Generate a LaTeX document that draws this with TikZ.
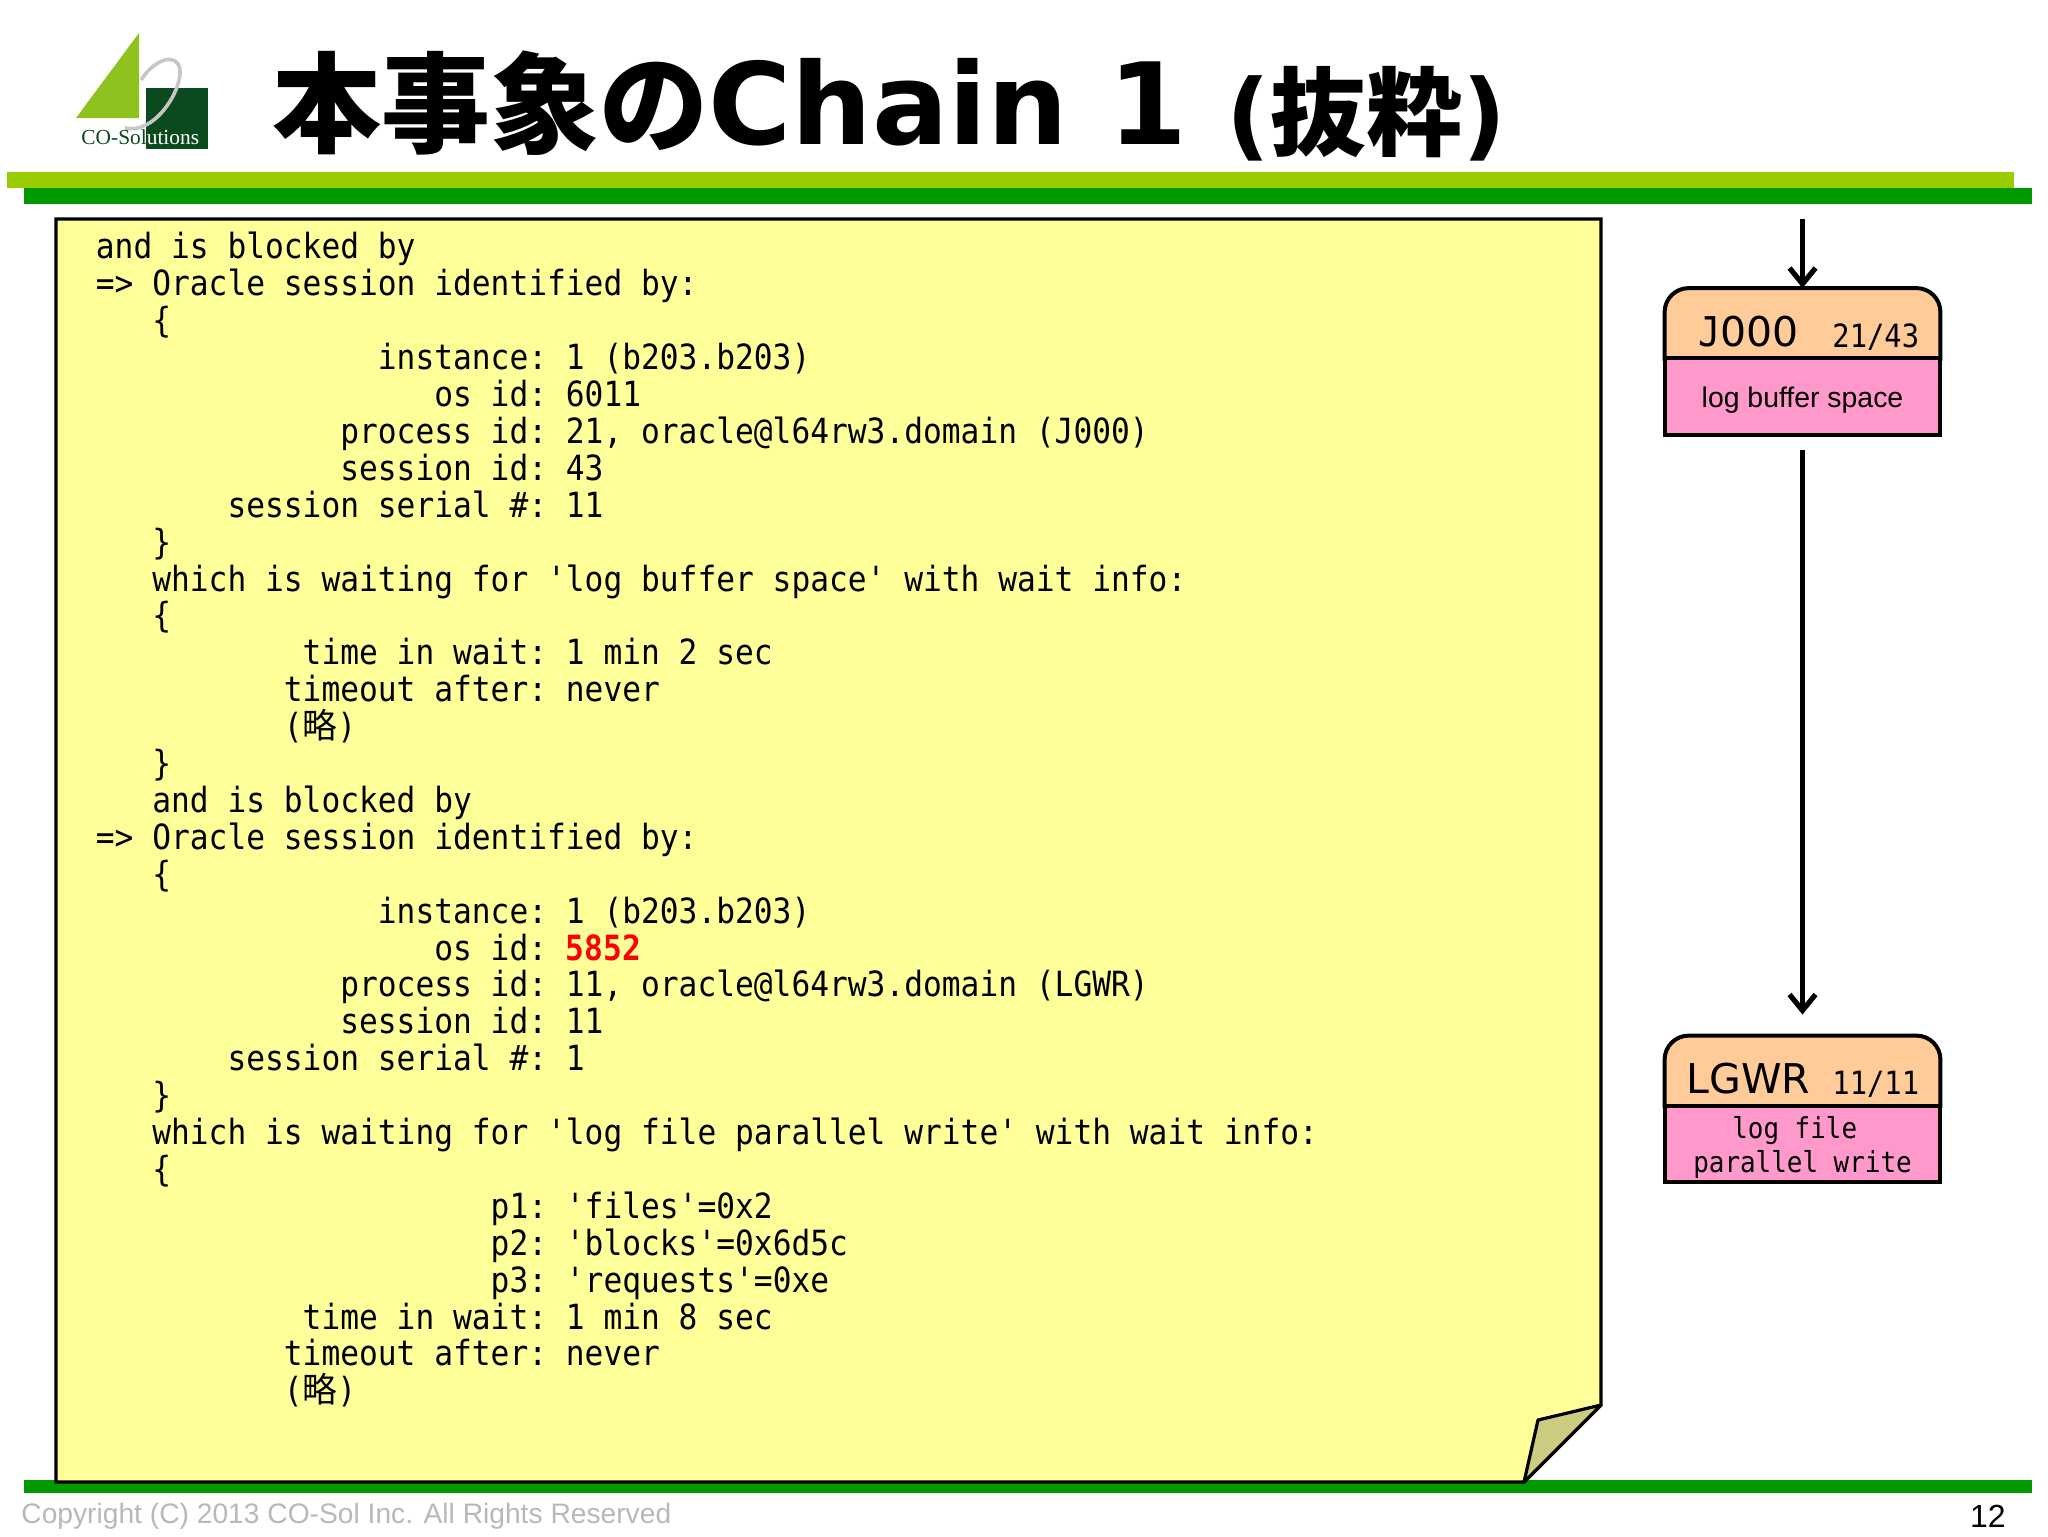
\documentclass[tikz,border=0pt]{standalone}
\usepackage{fontspec}
\usepackage{xcolor}
\usepackage{tikz}
\usetikzlibrary{arrows.meta, positioning, backgrounds}
\setmainfont{Liberation Sans}
\setmonofont[FakeStretch=0.9]{DejaVu Sans Mono}
\newfontfamily\cjkfont{Noto Sans CJK JP}
\newfontfamily\titlefont{DejaVu Sans}
\newfontfamily\logofont{Liberation Serif}
\definecolor{barlight}{HTML}{99CC00}
\definecolor{bardark}{HTML}{009900}
\definecolor{noteyellow}{HTML}{FFFF99}
\definecolor{noteflap}{HTML}{CCCC80}
\definecolor{headpeach}{HTML}{FFCC99}
\definecolor{bodypink}{HTML}{FF99CC}
\definecolor{logodark}{HTML}{0B4A1E}
\definecolor{logolight}{HTML}{8DC21F}
\definecolor{footgray}{HTML}{B8B8B8}
\tikzset{
	headbox/.style={minimum width=137.5pt, minimum height=35pt, inner sep=0pt},
	bodybox/.style={draw, line width=2pt, fill=bodypink, minimum width=137.5pt, inner sep=0pt, align=center},
	outline/.style={draw, line width=2pt, fill=headpeach},
	flow/.style={line width=2.6pt, -{Straight Barb[width=13pt,length=8pt]}},
	procname/.style={anchor=base west, inner sep=0pt, font=\titlefont\fontsize{20.5}{24}\selectfont},
	procids/.style={anchor=base west, inner sep=0pt, font=\ttfamily\fontsize{16}{18}\selectfont},
}
\begin{document}
\begin{tikzpicture}[x=0.5pt, y=-0.5pt]
	\useasboundingbox (0,0) rectangle (2048,1536);
	% Bars
	\fill[barlight] (7,172) rectangle (2014,188);
	\fill[bardark] (24,188) rectangle (2032,204);
	\fill[bardark] (24,1480) rectangle (2032,1493);
	% Logo
	\fill[logolight] (139,33) -- (76,118) -- (139,118) -- cycle;
	\fill[logodark] (146,88) rectangle (208,149);
	\draw[gray!45, line width=1.8pt] (141,80) .. controls (155,58) and (178,52) .. (180,70) .. controls (182,90) and (155,135) .. (125,128);
	\node[anchor=base west, inner sep=0pt, text=logodark, font=\logofont\fontsize{10.7}{12}\selectfont] (logotext) at (81,144) {CO-Sol\textcolor{white}{utions}};
	% Title
	\node[anchor=base west, inner sep=0pt] (title) at (272,144) {\cjkfont\bfseries\fontsize{54.5}{60}\selectfont 本事象の\titlefont\bfseries\fontsize{56.7}{60}\selectfont Chain 1\hspace{20pt}\fontsize{48}{50}\selectfont\raisebox{-2pt}{(\cjkfont 抜粋\titlefont)}};
	% Note
	\draw[line width=1.6pt, fill=noteyellow] (56,219) -- (1601,219) -- (1601,1405) -- (1524,1482) -- (56,1482) -- cycle;
	\draw[line width=1.6pt, fill=noteflap, line join=round] (1601,1405) -- (1538,1420) -- (1524,1482) -- cycle;
	\node[anchor=north west, inner sep=0pt, align=left, font=\ttfamily\fontsize{17.35}{18.45}\selectfont] (dump) at (95.5,232) {
		and is blocked by\\
		=> Oracle session identified by:\\
		~~~\{\\
		~~~~~~~~~~~~~~~instance: 1 (b203.b203)\\
		~~~~~~~~~~~~~~~~~~os id: 6011\\
		~~~~~~~~~~~~~process id: 21, oracle@l64rw3.domain (J000)\\
		~~~~~~~~~~~~~session id: 43\\
		~~~~~~~session serial \#: 11\\
		~~~\}\\
		~~~which is waiting for 'log buffer space' with wait info:\\
		~~~\{\\
		~~~~~~~~~~~time in wait: 1 min 2 sec\\
		~~~~~~~~~~timeout after: never\\
		~~~~~~~~~~({\cjkfont 略})\\
		~~~\}\\
		~~~and is blocked by\\
		=> Oracle session identified by:\\
		~~~\{\\
		~~~~~~~~~~~~~~~instance: 1 (b203.b203)\\
		~~~~~~~~~~~~~~~~~~os id: {\color{red}\bfseries 5852}\\
		~~~~~~~~~~~~~process id: 11, oracle@l64rw3.domain (LGWR)\\
		~~~~~~~~~~~~~session id: 11\\
		~~~~~~~session serial \#: 1\\
		~~~\}\\
		~~~which is waiting for 'log file parallel write' with wait info:\\
		~~~\{\\
		~~~~~~~~~~~~~~~~~~~~~p1: 'files'=0x2\\
		~~~~~~~~~~~~~~~~~~~~~p2: 'blocks'=0x6d5c\\
		~~~~~~~~~~~~~~~~~~~~~p3: 'requests'=0xe\\
		~~~~~~~~~~~time in wait: 1 min 8 sec\\
		~~~~~~~~~~timeout after: never\\
		~~~~~~~~~~({\cjkfont 略})
	};
	% J000
	\node[bodybox, minimum height=38.5pt, font=\fontsize{14.2}{17}\selectfont] (j000body) at (1802.5,396.5) {\rule{0pt}{14pt}log buffer space};
	\node[headbox] (j000) at (1802.5,323.5) {};
	\begin{scope}[on background layer]
		\path[outline] (j000.south west) [rounded corners=12pt] -- (j000.north west) -- (j000.north east) [sharp corners] -- (j000.south east) -- cycle;
	\end{scope}
	\node[procname] (j000name) at (1698,346) {{\ttfamily J}000};
	\node[procids] (j000ids) at (1832,347) {21/43};
	% LGWR
	\node[bodybox, minimum height=38pt, font=\ttfamily\fontsize{14.4}{17}\selectfont] (lgwrbody) at (1802.5,1144) {\rule{0pt}{14pt}log file~\mbox{}\\parallel write};
	\node[headbox] (lgwr) at (1802.5,1071) {};
	\begin{scope}[on background layer]
		\path[outline] (lgwr.south west) [rounded corners=12pt] -- (lgwr.north west) -- (lgwr.north east) [sharp corners] -- (lgwr.south east) -- cycle;
	\end{scope}
	\node[procname] (lgwrname) at (1686,1093) {LGWR};
	\node[procids] (lgwrids) at (1832,1094) {11/11};
	% Connectors
	\coordinate (chainin) at (1802.5,219);
	\draw[flow] (chainin) -- (j000.north);
	\draw[flow, shorten <=6.5pt, shorten >=10.5pt] (j000body.south) -- (lgwr.north);
	% Footer
	\node[anchor=base west, inner sep=0pt, text=footgray, font=\fontsize{14.1}{17}\selectfont] (copyright) at (21,1523) {Copyright (C) 2013 CO-Sol Inc. All Rights Reserved};
	\node[anchor=base east, inner sep=0pt, font=\fontsize{16}{18}\selectfont] (pageno) at (2006,1527) {12};
\end{tikzpicture}
\end{document}
